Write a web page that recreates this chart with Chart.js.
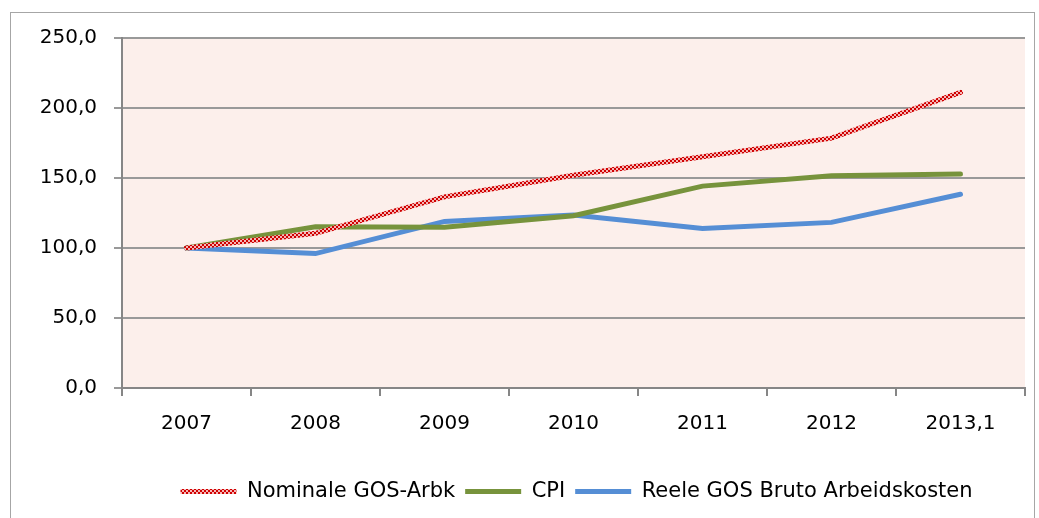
<!DOCTYPE html>
<html>
<head>
<meta charset="utf-8">
<script src="https://cdn.jsdelivr.net/npm/chart.js@4.4.0/dist/chart.umd.min.js"></script>
<style>
  body { margin: 0; background: #fff; }
  #frame { position: absolute; left: 10px; top: 12px; width: 1025px; height: 520px; border: 1px solid #a6a6a6; box-sizing: border-box; }
  #wrap { position: absolute; left: 0; top: 0; width: 1039px; height: 518px; }
</style>
</head>
<body>
<div id="frame"></div>
<div id="wrap"><canvas id="myChart" width="1039" height="518"></canvas></div>
<script>
var jaren = ['2007', '2008', '2009', '2010', '2011', '2012', '2013,1'];
var nominaal = [100.0, 110.5, 136.5, 152.0, 165.2, 178.5, 211.2];
var cpi = [100.0, 115.2, 114.8, 123.0, 144.2, 151.6, 152.8];
var reeel = [100.0, 96.0, 119.0, 123.5, 114.0, 118.3, 138.4];

// gestippelde rode lijn (patroon)
var pc = document.createElement('canvas');
pc.width = 4; pc.height = 4;
var p = pc.getContext('2d');
p.fillStyle = '#d00000';
p.fillRect(0, 0, 4, 4);
p.fillStyle = '#f4b8b8';
p.fillRect(0, 0, 2, 2);
p.fillRect(2, 2, 2, 2);
var ctx = document.getElementById('myChart').getContext('2d');
var rood = ctx.createPattern(pc, 'repeat');

var achtergrond = {
    id: 'achtergrond',
    beforeDraw: function(chart) {
        var a = chart.chartArea;
        chart.ctx.save();
        chart.ctx.fillStyle = '#fcefeb';
        chart.ctx.fillRect(a.left, a.top, a.right - a.left, a.bottom - a.top);
        chart.ctx.restore();
    }
};

// legenda iets naar rechts, zoals in het origineel
var legendaSchuif = {
    id: 'legendaSchuif',
    afterLayout: function(chart) {
        chart.legend.left += 64;
        chart.legend.right += 64;
    }
};

var myChart = new Chart(ctx, {
    type: 'line',
    data: {
        labels: jaren,
        datasets: [{
            label: 'Nominale GOS-Arbk',
            data: nominaal,
            borderColor: rood,
            backgroundColor: rood,
            borderWidth: 5,
            pointRadius: 0,
            pointStyle: 'line',
            borderCapStyle: 'round',
            fill: false
        }, {
            label: 'CPI',
            data: cpi,
            borderColor: '#77933c',
            backgroundColor: '#77933c',
            borderWidth: 5,
            pointRadius: 0,
            pointStyle: 'line',
            borderCapStyle: 'round',
            fill: false
        }, {
            label: 'Reele GOS Bruto Arbeidskosten',
            data: reeel,
            borderColor: '#558ed5',
            backgroundColor: '#558ed5',
            borderWidth: 5,
            pointRadius: 0,
            pointStyle: 'line',
            borderCapStyle: 'round',
            fill: false
        }]
    },
    options: {
        responsive: false,
        animation: false,
        layout: { padding: { top: 38, right: 14, left: 0, bottom: 6 } },
        plugins: {
            legend: {
                position: 'bottom',
                labels: {
                    usePointStyle: true,
                    pointStyleWidth: 56,
                    padding: 10,
                    color: '#000',
                    font: { family: 'DejaVu Sans', size: 21 }
                }
            },
            tooltip: { enabled: false }
        },
        scales: {
            x: {
                offset: true,
                afterFit: function(s) { s.height = 83; },
                grid: { offset: true, drawOnChartArea: false, color: '#868686', lineWidth: 2, tickLength: 8 },
                border: { color: '#868686', width: 2 },
                ticks: { color: '#000', padding: 16, maxRotation: 0, font: { family: 'DejaVu Sans', size: 20 } }
            },
            y: {
                min: 0,
                max: 250,
                afterFit: function(s) { s.width = 122; },
                grid: { color: '#999999', lineWidth: 2, tickLength: 8 },
                border: { color: '#868686', width: 2 },
                ticks: {
                    stepSize: 50,
                    color: '#000',
                    padding: 17,
                    font: { family: 'DejaVu Sans', size: 20 },
                    callback: function(v) { return v.toFixed(1).replace('.', ','); }
                }
            }
        }
    },
    plugins: [achtergrond, legendaSchuif]
});
</script>
</body>
</html>
